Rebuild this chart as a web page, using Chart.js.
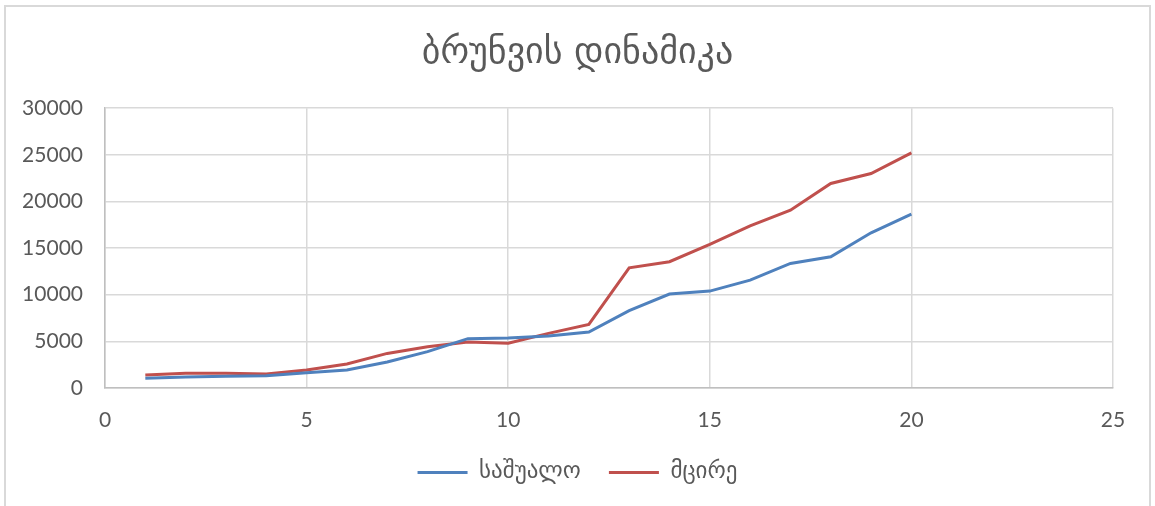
<!DOCTYPE html>
<html>
<head>
<meta charset="utf-8">
<script src="https://cdn.jsdelivr.net/npm/chart.js@4"></script>
<style>
  body { margin: 0; background: #fff; }
  #wrap { position: relative; width: 1155px; height: 506px; overflow: hidden; }
  #frame { position: absolute; left: 4px; top: 5px; width: 1147px; height: 540px; border: 2px solid #d9d9d9; box-sizing: border-box; }
  canvas { position: absolute; left: 0; top: 0; }
</style>
</head>
<body>
<div id="wrap">
  <div id="frame"></div>
  <canvas id="brunva_chart" width="1155" height="506"></canvas>
</div>
<script>
// კვირები / periods
var periods = [1, 2, 3, 4, 5, 6, 7, 8, 9, 10, 11, 12, 13, 14, 15, 16, 17, 18, 19, 20];
// საშუალო
var sashualo = [1050, 1180, 1250, 1320, 1640, 1930, 2790, 3900, 5290, 5350, 5570, 6000, 8290, 10070, 10390, 11570, 13360, 14070, 16640, 18640];
// მცირე
var mcire = [1400, 1570, 1570, 1500, 1930, 2570, 3710, 4430, 4930, 4790, 5860, 6820, 12890, 13540, 15400, 17390, 19070, 21930, 23000, 25210];

var title_text = 'ბრუნვის დინამიკა';
var series_labels = ['საშუალო', 'მცირე'];

var txt_color = '#595959';
var grid_color = '#d9d9d9';

function toPoints(vals) {
  return periods.map(function(p, i){ return {x: p, y: vals[i]}; });
}

var brunva_chart = new Chart(document.getElementById('brunva_chart'), {
  type: 'line',
  data: {
    datasets: [
      {
        label: series_labels[0],
        data: toPoints(sashualo),
        borderColor: '#4F81BD',
        backgroundColor: '#4F81BD',
        borderWidth: 3,
        pointRadius: 0,
        tension: 0
      },
      {
        label: series_labels[1],
        data: toPoints(mcire),
        borderColor: '#C0504D',
        backgroundColor: '#C0504D',
        borderWidth: 3,
        pointRadius: 0,
        tension: 0
      }
    ]
  },
  options: {
    responsive: false,
    animation: false,
    layout: { padding: { left: 0, right: 0, top: 0, bottom: 12 } },
    plugins: {
      title: {
        display: true,
        text: title_text,
        color: txt_color,
        font: { family: "'DejaVu Sans', sans-serif", size: 36, weight: 'normal' },
        padding: { top: 32, bottom: 33 }
      },
      legend: {
        position: 'bottom',
        labels: {
          usePointStyle: true,
          pointStyle: 'line',
          pointStyleWidth: 50,
          padding: 28,
          color: txt_color,
          font: { family: "'DejaVu Sans', sans-serif", size: 23 }
        }
      },
      tooltip: { enabled: false }
    },
    scales: {
      x: {
        type: 'linear',
        min: 0,
        max: 25,
        ticks: { stepSize: 5, color: txt_color, padding: 20, font: { family: 'Lato, sans-serif', size: 21 } },
        grid: { color: grid_color, lineWidth: 1.5, drawTicks: false },
        border: { color: '#bfbfbf', width: 1.5 },
        afterFit: function(scale){ scale.height = 45; scale.paddingRight = 42; }
      },
      y: {
        min: 0,
        max: 30000,
        ticks: {
          stepSize: 5000,
          color: txt_color,
          padding: 22,
          font: { family: 'Lato, sans-serif', size: 21 },
          callback: function(v){ return String(v); }
        },
        grid: { color: grid_color, lineWidth: 1.5, drawTicks: false },
        border: { color: '#bfbfbf', width: 1.5 },
        afterFit: function(scale){ scale.width = 105; }
      }
    }
  }
});
</script>
</body>
</html>
